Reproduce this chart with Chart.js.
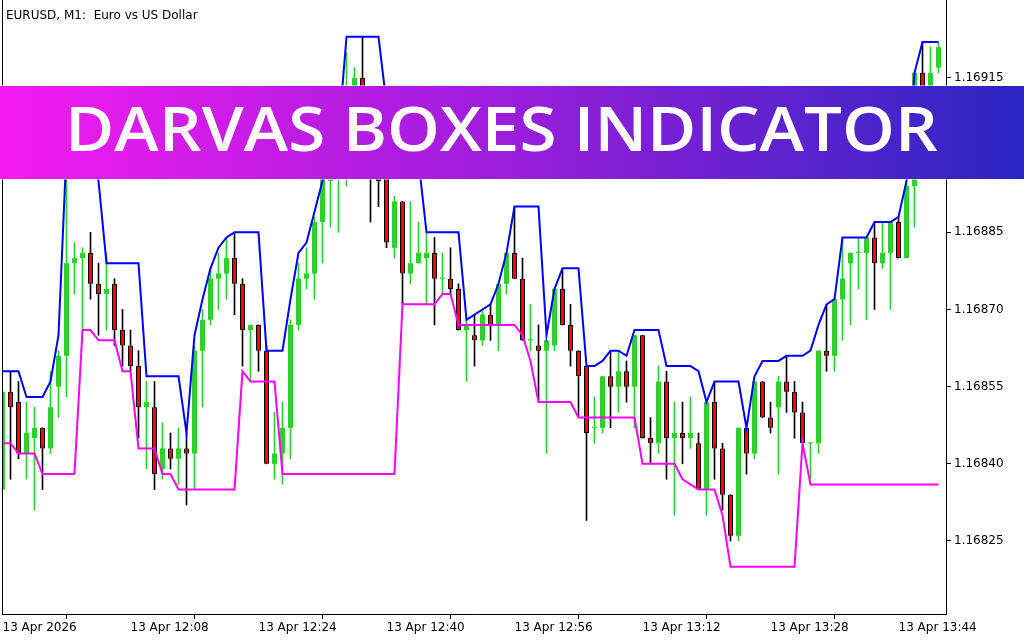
<!DOCTYPE html>
<html>
<head>
<meta charset="utf-8">
<script src="https://cdn.jsdelivr.net/npm/chart.js@4.4.1/dist/chart.umd.min.js"></script>
<style>
  html, body { margin: 0; padding: 0; background: #fff; }
  #wrap { width: 1024px; height: 640px; }
</style>
</head>
<body>
<div id="wrap"><canvas id="chart" width="1024" height="640"></canvas></div>
<script>
// EURUSD M1 candles, 13 Apr 2026, one per minute starting 11:52
const opens = [
  1.16835, 1.16854, 1.16852, 1.16842, 1.16845, 1.16847, 1.16843, 1.16855, 1.16861, 1.16879,
  1.16880, 1.16881, 1.16875, 1.16873, 1.16875, 1.16866, 1.16863, 1.16859, 1.16851, 1.16851,
  1.16839, 1.16843, 1.16841, 1.16843, 1.16842, 1.16862, 1.16868, 1.16876, 1.16877, 1.16880,
  1.16875, 1.16866, 1.16867, 1.16862, 1.16840, 1.16842, 1.16847, 1.16867, 1.16876, 1.16877,
  1.16887, 1.16895, 1.16896, 1.16903, 1.16908, 1.16915, 1.16903, 1.16897, 1.16896, 1.16882,
  1.16891, 1.16877, 1.16879, 1.16880, 1.16881, 1.16876, 1.16876, 1.16874, 1.16866, 1.16865,
  1.16864, 1.16869, 1.16867, 1.16875, 1.16881, 1.16876, 1.16864, 1.16863, 1.16862, 1.16863,
  1.16874, 1.16867, 1.16862, 1.16859, 1.16847, 1.16847, 1.16857, 1.16855, 1.16858, 1.16855,
  1.16865, 1.16845, 1.16844, 1.16856, 1.16845, 1.16846, 1.16845, 1.16844, 1.16835, 1.16852,
  1.16843, 1.16834, 1.16826, 1.16847, 1.16842, 1.16856, 1.16849, 1.16851, 1.16856, 1.16854,
  1.16850, 1.16844, 1.16844, 1.16862, 1.16861, 1.16872, 1.16879, 1.16881, 1.16881, 1.16884,
  1.16879, 1.16881, 1.16887, 1.16880, 1.16894, 1.16916, 1.16907, 1.16917
];
const highs = [
  1.16854, 1.16858, 1.16856, 1.16852, 1.16851, 1.16847, 1.16858, 1.16862, 1.16899, 1.16883,
  1.16882, 1.16885, 1.16879, 1.16881, 1.16876, 1.16870, 1.16866, 1.16862, 1.16856, 1.16856,
  1.16848, 1.16846, 1.16847, 1.16846, 1.16863, 1.16870, 1.16878, 1.16881, 1.16884, 1.16885,
  1.16876, 1.16867, 1.16867, 1.16863, 1.16850, 1.16852, 1.16868, 1.16879, 1.16882, 1.16888,
  1.16899, 1.16902, 1.16906, 1.16920, 1.16917, 1.16923, 1.16908, 1.16902, 1.16900, 1.16892,
  1.16891, 1.16891, 1.16887, 1.16885, 1.16884, 1.16881, 1.16882, 1.16875, 1.16868, 1.16869,
  1.16870, 1.16871, 1.16875, 1.16881, 1.16890, 1.16880, 1.16871, 1.16867, 1.16864, 1.16874,
  1.16878, 1.16871, 1.16862, 1.16859, 1.16853, 1.16857, 1.16862, 1.16862, 1.16860, 1.16865,
  1.16865, 1.16849, 1.16859, 1.16858, 1.16852, 1.16852, 1.16853, 1.16846, 1.16852, 1.16856,
  1.16844, 1.16834, 1.16847, 1.16847, 1.16856, 1.16856, 1.16852, 1.16857, 1.16861, 1.16856,
  1.16852, 1.16844, 1.16862, 1.16871, 1.16872, 1.16884, 1.16881, 1.16884, 1.16884, 1.16887,
  1.16887, 1.16887, 1.16888, 1.16896, 1.16916, 1.16922, 1.16921, 1.16922
];
const lows = [
  1.16835, 1.16837, 1.16841, 1.16837, 1.16831, 1.16835, 1.16842, 1.16849, 1.16853, 1.16873,
  1.16866, 1.16872, 1.16865, 1.16866, 1.16863, 1.16859, 1.16858, 1.16845, 1.16839, 1.16835,
  1.16837, 1.16839, 1.16836, 1.16832, 1.16835, 1.16851, 1.16867, 1.16870, 1.16872, 1.16869,
  1.16859, 1.16856, 1.16858, 1.16840, 1.16837, 1.16836, 1.16841, 1.16866, 1.16874, 1.16872,
  1.16879, 1.16886, 1.16885, 1.16894, 1.16900, 1.16897, 1.16887, 1.16890, 1.16882, 1.16880,
  1.16871, 1.16875, 1.16879, 1.16871, 1.16867, 1.16873, 1.16873, 1.16866, 1.16856, 1.16859,
  1.16863, 1.16864, 1.16862, 1.16873, 1.16876, 1.16864, 1.16862, 1.16852, 1.16842, 1.16862,
  1.16867, 1.16859, 1.16849, 1.16829, 1.16844, 1.16846, 1.16847, 1.16850, 1.16852, 1.16847,
  1.16845, 1.16840, 1.16842, 1.16837, 1.16830, 1.16840, 1.16843, 1.16835, 1.16830, 1.16837,
  1.16831, 1.16825, 1.16825, 1.16838, 1.16841, 1.16849, 1.16846, 1.16838, 1.16850, 1.16845,
  1.16844, 1.16837, 1.16842, 1.16858, 1.16858, 1.16864, 1.16867, 1.16874, 1.16868, 1.16870,
  1.16878, 1.16870, 1.16880, 1.16880, 1.16886, 1.16905, 1.16905, 1.16916
];
const closes = [
  1.16854, 1.16851, 1.16842, 1.16846, 1.16847, 1.16843, 1.16851, 1.16861, 1.16879, 1.16880,
  1.16881, 1.16875, 1.16873, 1.16874, 1.16866, 1.16863, 1.16859, 1.16851, 1.16852, 1.16838,
  1.16843, 1.16841, 1.16843, 1.16842, 1.16862, 1.16868, 1.16876, 1.16877, 1.16880, 1.16875,
  1.16866, 1.16867, 1.16862, 1.16840, 1.16842, 1.16847, 1.16867, 1.16876, 1.16877, 1.16887,
  1.16897, 1.16900, 1.16904, 1.16911, 1.16915, 1.16903, 1.16897, 1.16895, 1.16883, 1.16891,
  1.16877, 1.16879, 1.16881, 1.16881, 1.16876, 1.16876, 1.16874, 1.16866, 1.16867, 1.16864,
  1.16869, 1.16867, 1.16875, 1.16881, 1.16876, 1.16864, 1.16864, 1.16862, 1.16864, 1.16874,
  1.16867, 1.16862, 1.16857, 1.16846, 1.16847, 1.16857, 1.16855, 1.16858, 1.16855, 1.16865,
  1.16845, 1.16844, 1.16856, 1.16845, 1.16846, 1.16845, 1.16846, 1.16835, 1.16852, 1.16843,
  1.16834, 1.16826, 1.16847, 1.16842, 1.16856, 1.16849, 1.16847, 1.16856, 1.16854, 1.16850,
  1.16844, 1.16844, 1.16862, 1.16861, 1.16872, 1.16876, 1.16881, 1.16881, 1.16884, 1.16879,
  1.16881, 1.16887, 1.16880, 1.16894, 1.16916, 1.16909, 1.16916, 1.16921
];

// Darvas box top (blue) and bottom (magenta)
const upperBox = [
  1.16858, 1.16858, 1.16858, 1.16853, 1.16853, 1.16853, 1.16856, 1.16865, 1.16901, 1.16901,
  1.16901, 1.16901, 1.16895, 1.16879, 1.16879, 1.16879, 1.16879, 1.16879, 1.16857, 1.16857,
  1.16857, 1.16857, 1.16857, 1.16846, 1.16865, 1.16872, 1.16878, 1.16882, 1.16884, 1.16885,
  1.16885, 1.16885, 1.16885, 1.16862, 1.16862, 1.16862, 1.16872, 1.16881, 1.16883, 1.16889,
  1.16895, 1.16899, 1.16904, 1.16923, 1.16923, 1.16923, 1.16923, 1.16923, 1.16910, 1.16906,
  1.16903, 1.16901, 1.16899, 1.16885, 1.16885, 1.16885, 1.16885, 1.16885, 1.16868, 1.16869,
  1.16870, 1.16871, 1.16875, 1.16881, 1.16890, 1.16890, 1.16890, 1.16890, 1.16865, 1.16874,
  1.16878, 1.16878, 1.16878, 1.16859, 1.16859, 1.16860, 1.16862, 1.16862, 1.16861, 1.16866,
  1.16866, 1.16866, 1.16866, 1.16859, 1.16859, 1.16859, 1.16859, 1.16858, 1.16852, 1.16856,
  1.16856, 1.16856, 1.16856, 1.16847, 1.16857, 1.16860, 1.16860, 1.16860, 1.16861, 1.16861,
  1.16861, 1.16862, 1.16867, 1.16871, 1.16872, 1.16884, 1.16884, 1.16884, 1.16884, 1.16887,
  1.16887, 1.16887, 1.16888, 1.16895, 1.16916, 1.16922, 1.16922, 1.16922
];
const lowerBox = [
  1.16844, 1.16844, 1.16842, 1.16842, 1.16842, 1.16838, 1.16838, 1.16838, 1.16838, 1.16838,
  1.16866, 1.16866, 1.16864, 1.16864, 1.16864, 1.16858, 1.16858, 1.16843, 1.16843, 1.16843,
  1.16838, 1.16838, 1.16835, 1.16835, 1.16835, 1.16835, 1.16835, 1.16835, 1.16835, 1.16835,
  1.16858, 1.16856, 1.16856, 1.16856, 1.16856, 1.16838, 1.16838, 1.16838, 1.16838, 1.16838,
  1.16838, 1.16838, 1.16838, 1.16838, 1.16838, 1.16838, 1.16838, 1.16838, 1.16838, 1.16838,
  1.16871, 1.16871, 1.16871, 1.16871, 1.16871, 1.16873, 1.16873, 1.16867, 1.16867, 1.16867,
  1.16867, 1.16867, 1.16867, 1.16867, 1.16867, 1.16865, 1.16860, 1.16852, 1.16852, 1.16852,
  1.16852, 1.16852, 1.16849, 1.16849, 1.16849, 1.16849, 1.16849, 1.16849, 1.16849, 1.16849,
  1.16840, 1.16840, 1.16840, 1.16840, 1.16840, 1.16837, 1.16836, 1.16835, 1.16835, 1.16835,
  1.16830, 1.16820, 1.16820, 1.16820, 1.16820, 1.16820, 1.16820, 1.16820, 1.16820, 1.16820,
  1.16844, 1.16836, 1.16836, 1.16836, 1.16836, 1.16836, 1.16836, 1.16836, 1.16836, 1.16836,
  1.16836, 1.16836, 1.16836, 1.16836, 1.16836, 1.16836, 1.16836, 1.16836
];

// axis labels
const timeTickIndex = [0, 16, 32, 48, 64, 80, 96, 112];
const timeTickLabels = ['13 Apr 2026', '13 Apr 12:08', '13 Apr 12:24', '13 Apr 12:40',
                        '13 Apr 12:56', '13 Apr 13:12', '13 Apr 13:28', '13 Apr 13:44'];
const priceTicks = [1.16825, 1.16840, 1.16855, 1.16870, 1.16885, 1.16900, 1.16915];

const titleText = 'EURUSD, M1:  Euro vs US Dollar';
const bannerText = 'DARVAS BOXES INDICATOR';

const GREEN = '#32cd32';
const RED = '#ff0000';
const AXIS_FONT = { family: 'DejaVu Sans', size: 12 };

const bull = opens.map((o, i) => closes[i] >= o);
const bodies = opens.map((o, i) => ({ x: i, y: [o, closes[i]] }));
const wicks = lows.map((l, i) => ({ x: i, y: [l, highs[i]] }));
const upperPts = upperBox.map((v, i) => ({ x: i, y: v }));
const lowerPts = lowerBox.map((v, i) => ({ x: i, y: v }));

// title, left frame line and the banner over the chart
const overlay = {
    id: 'overlay',
    afterDraw(chart) {
        const ctx = chart.ctx;
        const area = chart.chartArea;
        ctx.save();

        ctx.strokeStyle = '#000';
        ctx.lineWidth = 1;
        ctx.beginPath();
        ctx.moveTo(area.left + 0.5, area.top);
        ctx.lineTo(area.left + 0.5, area.bottom);
        ctx.stroke();

        ctx.fillStyle = '#000';
        ctx.font = '12px "DejaVu Sans"';
        ctx.textBaseline = 'alphabetic';
        ctx.fillText(titleText, 6, 19);

        const g = ctx.createLinearGradient(0, 0, chart.width, 0);
        g.addColorStop(0, '#f41bf0');
        g.addColorStop(0.5, '#9a1edb');
        g.addColorStop(1, '#2926c2');
        ctx.fillStyle = g;
        ctx.fillRect(0, 86, chart.width, 93);
        ctx.fillStyle = 'rgba(255,255,255,0.5)';
        ctx.fillRect(0, 85, chart.width, 1);
        ctx.fillRect(0, 179, chart.width, 1);

        ctx.font = '600 61px "Open Sans"';
        const w = ctx.measureText(bannerText).width;
        ctx.translate(501.5, 151);
        ctx.scale(873 / w, 1);
        ctx.textAlign = 'center';
        ctx.fillStyle = '#fff';
        ctx.fillText(bannerText, 0, 0);
        ctx.restore();
    }
};

const ctx = document.getElementById('chart').getContext('2d');
const chart = new Chart(ctx, {
    type: 'bar',
    data: {
        datasets: [
            {
                label: 'wicks',
                data: wicks,
                backgroundColor: bull.map(b => b ? GREEN : '#000'),
                barThickness: 1,
                grouped: false,
                order: 4
            },
            {
                label: 'bodies',
                data: bodies,
                backgroundColor: bull.map(b => b ? GREEN : RED),
                borderColor: '#000',
                borderWidth: bull.map(b => b ? 0 : 1),
                borderSkipped: false,
                inflateAmount: 0,
                barThickness: 5,
                minBarLength: 1,
                grouped: false,
                order: 3
            },
            {
                type: 'line',
                label: 'box bottom',
                data: lowerPts,
                borderColor: '#ff00ff',
                borderWidth: 2,
                pointRadius: 0,
                tension: 0,
                order: 2
            },
            {
                type: 'line',
                label: 'box top',
                data: upperPts,
                borderColor: '#0000ff',
                borderWidth: 2,
                pointRadius: 0,
                tension: 0,
                order: 1
            }
        ]
    },
    options: {
        responsive: false,
        animation: false,
        devicePixelRatio: 1,
        events: [],
        layout: { padding: { left: 2, right: 0, top: 0, bottom: 0 } },
        plugins: {
            legend: { display: false },
            tooltip: { enabled: false }
        },
        scales: {
            x: {
                type: 'linear',
                min: -0.0625,
                max: 117.9375,
                offset: false,
                afterFit: s => { s.height = 26; s.paddingLeft = 0; s.paddingRight = 0; },
                afterBuildTicks: s => { s.ticks = timeTickIndex.map(v => ({ value: v })); },
                ticks: {
                    callback: v => timeTickLabels[timeTickIndex.indexOf(v)],
                    align: 'start',
                    maxRotation: 0,
                    autoSkip: false,
                    padding: 2,
                    color: '#000',
                    font: AXIS_FONT
                },
                grid: { drawOnChartArea: false, drawTicks: true, tickLength: 5, color: '#000' },
                border: { display: true, color: '#000' }
            },
            y: {
                position: 'right',
                min: 1.1681081,
                max: 1.1693016,
                afterFit: s => { s.width = 78; s.paddingTop = 0; s.paddingBottom = 0; },
                afterBuildTicks: s => { s.ticks = priceTicks.map(v => ({ value: v })); },
                ticks: {
                    callback: v => v.toFixed(5),
                    padding: 3,
                    color: '#000',
                    font: AXIS_FONT
                },
                grid: { drawOnChartArea: false, drawTicks: true, tickLength: 5, color: '#000' },
                border: { display: true, color: '#000' }
            }
        }
    },
    plugins: [overlay]
});
</script>
</body>
</html>
